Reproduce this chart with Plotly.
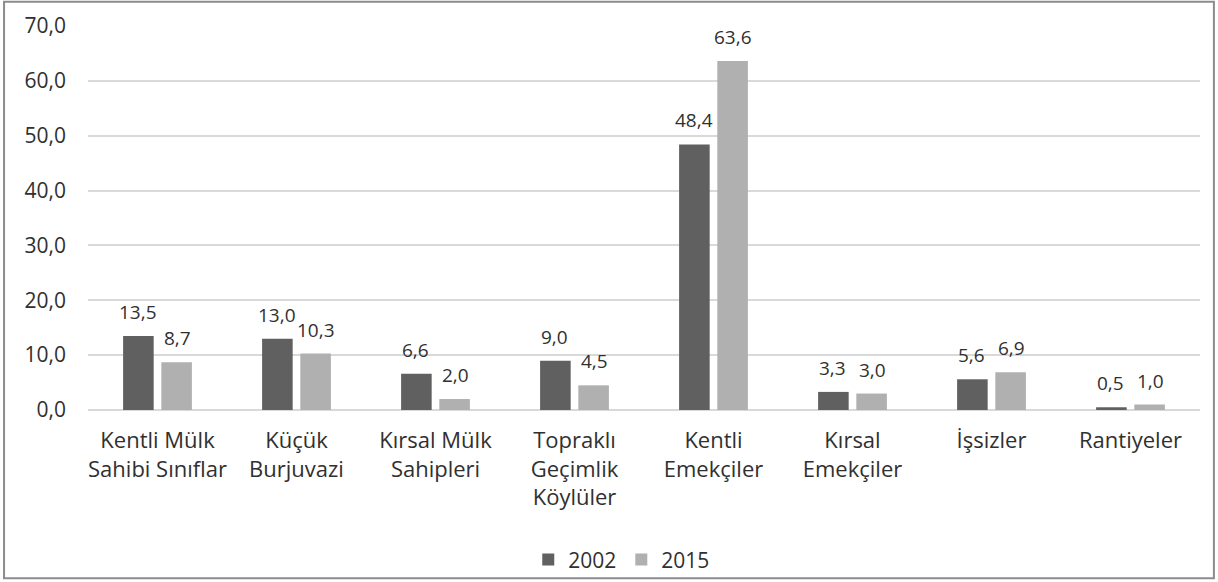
import plotly.graph_objects as go

# categories and values
categories = [
    "Kentli Mülk<br>Sahibi Sınıflar",
    "Küçük<br>Burjuvazi",
    "Kırsal Mülk<br>Sahipleri",
    "Topraklı<br>Geçimlik<br>Köylüler",
    "Kentli<br>Emekçiler",
    "Kırsal<br>Emekçiler",
    "İşsizler",
    "Rantiyeler",
]
values_2002 = [13.5, 13.0, 6.6, 9.0, 48.4, 3.3, 5.6, 0.5]
values_2015 = [8.7, 10.3, 2.0, 4.5, 63.6, 3.0, 6.9, 1.0]
series_names = ["2002", "2015"]
y_ticks = [0, 10, 20, 30, 40, 50, 60, 70]

FONT = "'Open Sans', sans-serif"
TEXT = "#303030"
DARK = "#606060"
LIGHT = "#b0b0b0"

fig = go.Figure()
fig.add_trace(go.Bar(x=categories, y=values_2002, name=series_names[0],
                     marker=dict(color=DARK, line=dict(width=0))))
fig.add_trace(go.Bar(x=categories, y=values_2015, name=series_names[1],
                     marker=dict(color=LIGHT, line=dict(width=0))))

# data labels above each bar
shift = 19.7
for vals, xs in ((values_2002, -shift), (values_2015, shift)):
    for cat, v in zip(categories, vals):
        fig.add_annotation(
            x=cat, y=v, xref="x", yref="y",
            text=f"{v:.1f}".replace(".", ","),
            showarrow=False, xshift=xs, yshift=9, yanchor="bottom",
            font=dict(family=FONT, size=19, color=TEXT),
        )

# outer border of the chart
fig.add_shape(type="rect", xref="paper", yref="paper",
              x0=-0.0755, x1=1.0125, y0=-0.438, y1=1.063,
              line=dict(color="#8c8c8c", width=2), fillcolor="rgba(0,0,0,0)",
              layer="below")

fig.update_layout(
    width=1218, height=582,
    margin=dict(l=88, r=18, t=26, b=172, autoexpand=False),
    paper_bgcolor="white", plot_bgcolor="white",
    barmode="group", bargap=0.45, bargroupgap=0.2,
    separators=",.",
    font=dict(family=FONT, size=21, color=TEXT),
    showlegend=True,
    legend=dict(orientation="h", x=0.48, xanchor="center", y=-0.39,
                yanchor="middle", font=dict(size=21, color=TEXT),
                bgcolor="rgba(0,0,0,0)", itemwidth=30, traceorder="normal"),
)
fig.update_xaxes(showgrid=False, showline=False, ticks="", automargin=False,
                 tickfont=dict(size=22, color=TEXT), tickangle=0,
                 ticklabelstandoff=15)
fig.update_yaxes(range=[0, 70], tickvals=y_ticks, tickformat=".1f",
                 showgrid=True, gridcolor="#d9d9d9", gridwidth=1.8,
                 zeroline=True, zerolinecolor="#d9d9d9", zerolinewidth=2,
                 showline=False, ticks="", ticklabelstandoff=21, automargin=False,
                 tickfont=dict(size=21, color=TEXT))

# drop the page's default body margin so the figure sits at the window corner
fig.write_html("out.html", config={"displayModeBar": False},
               post_script="document.body.style.margin='0';")
